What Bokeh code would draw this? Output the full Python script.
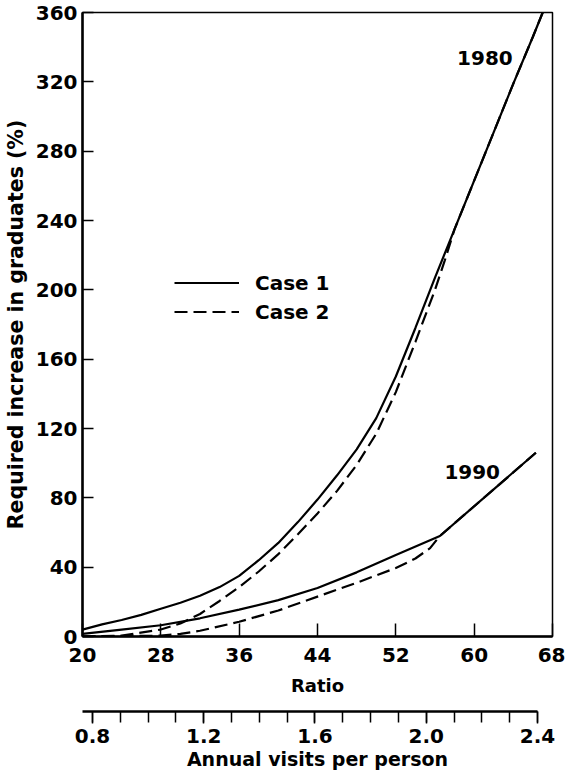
from bokeh.plotting import figure
from bokeh.models import (Range1d, LinearAxis, FixedTicker, Legend, LegendItem,
                          Label, Title, PrintfTickFormatter)
from bokeh.embed import file_html
from bokeh.resources import INLINE

# ---------------- data ----------------
ratio_ticks = [20, 28, 36, 44, 52, 60, 68]
increase_ticks = [0, 40, 80, 120, 160, 200, 240, 280, 320, 360]
visits_major_ticks = [0.8, 1.2, 1.6, 2.0, 2.4]
visits_minor_ticks = [0.8, 0.9, 1.0, 1.1, 1.2, 1.3, 1.4, 1.5, 1.6, 1.7, 1.8,
                      1.9, 2.0, 2.1, 2.2, 2.3, 2.4]
visits_range = (0.764, 2.454)   # visits-per-person values at the frame edges

x_1980_case1 = [20, 22, 24, 26, 28, 30, 32, 34, 36, 38, 40, 42, 44, 46, 48,
                50, 52, 54, 56, 58, 60, 62, 64, 66, 67]
y_1980_case1 = [4, 7, 9.5, 12.5, 16, 19.5, 23.5, 28.5, 35, 44, 54, 66, 79, 93, 108,
                126, 150, 178, 207, 235, 263, 291, 319, 346, 360]

x_1980_case2 = [20, 24, 28, 30, 32, 34, 36, 38, 40, 42, 44, 46, 48, 50, 52,
                54, 56, 57, 58, 60, 62, 64, 66, 67]
y_1980_case2 = [0, 0.5, 4, 7.5, 13, 20.5, 28.5, 37.5, 47.5, 59, 71, 84, 99, 117, 141,
                170, 200, 217, 235, 263, 291, 319, 346, 360]

x_1990_case1 = [20, 24, 28, 32, 36, 40, 44, 48, 52, 56.5, 66.3]
y_1990_case1 = [1.5, 4, 6.5, 10.5, 15.5, 21, 28, 37, 47, 58, 106]

x_1990_case2 = [20, 28, 30, 32, 36, 40, 44, 48, 52, 54, 55.5, 56.5, 66.3]
y_1990_case2 = [0, 0.5, 1.5, 3.3, 8.5, 15, 23, 31, 39.5, 45, 51, 58, 106]

year_labels = ["1980", "1990"]
year_label_x = [61.1, 59.8]
year_label_y = [334, 95]

case_names = ["Case 1", "Case 2"]

FONT = "DejaVu Sans"
INK = "black"

p = figure(frame_width=470, frame_height=624,
           x_range=Range1d(20, 68), y_range=Range1d(0, 360),
           output_backend="svg", toolbar_location=None,
           min_border_left=77, min_border_right=13, min_border_top=12,
           min_border_bottom=0)
p.grid.visible = False
p.outline_line_color = INK
p.outline_line_width = 1.5
p.background_fill_color = "white"
p.border_fill_color = "white"


def style_axis(ax, label_size="20px", title_size="18px"):
    ax.axis_line_color = INK
    ax.axis_line_width = 2.5
    ax.major_tick_line_color = INK
    ax.minor_tick_line_color = INK
    ax.major_tick_line_width = 1.5
    ax.minor_tick_line_width = 1.5
    ax.major_label_text_font = FONT
    ax.major_label_text_font_style = "bold"
    ax.major_label_text_font_size = label_size
    ax.major_label_text_color = INK
    ax.axis_label_text_font = FONT
    ax.axis_label_text_font_style = "bold"
    ax.axis_label_text_font_size = title_size
    ax.axis_label_text_color = INK


# primary x axis (ratio)
xa = p.xaxis[0]
style_axis(xa)
xa.ticker = FixedTicker(ticks=ratio_ticks)
xa.major_tick_in = 13
xa.major_tick_out = 0
xa.minor_tick_in = 0
xa.minor_tick_out = 0
xa.major_label_standoff = 11
xa.axis_label = "Ratio"
xa.axis_label_standoff = 10

ya = p.yaxis[0]
style_axis(ya, title_size="20.5px")
ya.ticker = FixedTicker(ticks=increase_ticks)
ya.major_tick_in = 11
ya.major_tick_out = 0
ya.minor_tick_in = 0
ya.minor_tick_out = 0
ya.major_label_standoff = 5
ya.axis_label = "Required increase in graduates (%)"
ya.axis_label_standoff = 5

# spacer between the two lower axes
p.add_layout(Title(text=" ", text_font_size="6px", standoff=5), "below")

# secondary axis: annual visits per person
p.extra_x_ranges = {"visits": Range1d(*visits_range)}
va = LinearAxis(x_range_name="visits", bounds=(visits_range[0], 2.4))
style_axis(va, title_size="19px")
va.ticker = FixedTicker(ticks=visits_major_ticks, minor_ticks=visits_minor_ticks)
va.formatter = PrintfTickFormatter(format="%.1f")
va.major_tick_in = 0
va.major_tick_out = 12
va.minor_tick_in = 0
va.minor_tick_out = 11
va.major_label_standoff = 5
va.axis_label = "Annual visits per person"
va.axis_label_standoff = 2
p.add_layout(va, "below")

# curves
r1a = p.line(x_1980_case1, y_1980_case1, line_color=INK, line_width=2.2)
r2a = p.line(x_1980_case2, y_1980_case2, line_color=INK, line_width=2.2,
             line_dash="13 6")
r1b = p.line(x_1990_case1, y_1990_case1, line_color=INK, line_width=2.2)
r2b = p.line(x_1990_case2, y_1990_case2, line_color=INK, line_width=2.2,
             line_dash="13 6")

for t, lx, ly in zip(year_labels, year_label_x, year_label_y):
    p.add_layout(Label(x=lx, y=ly, text=t, text_align="center",
                       text_baseline="middle", text_font=FONT,
                       text_font_style="bold", text_font_size="20px",
                       text_color=INK))

legend = Legend(items=[LegendItem(label=case_names[0], renderers=[r1a]),
                       LegendItem(label=case_names[1], renderers=[r2a])],
                location=(92, 312), padding=0, margin=0, spacing=4,
                glyph_width=65, glyph_height=25, label_height=25,
                label_standoff=16, border_line_color=None,
                background_fill_alpha=0,
                label_text_font=FONT, label_text_font_style="bold",
                label_text_font_size="20px", label_text_color=INK)
p.add_layout(legend, "center")

open("out.html", "w").write(file_html(p, INLINE))
